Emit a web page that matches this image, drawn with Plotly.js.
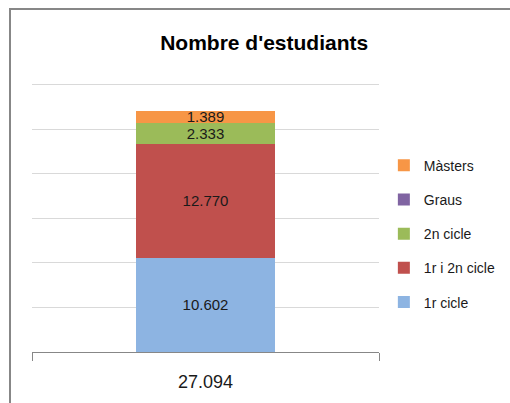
<!DOCTYPE html>
<html>
<head>
<meta charset="utf-8">
<script src="https://cdn.plot.ly/plotly-3.0.1.min.js"></script>
<style>
html,body{margin:0;padding:0;background:#fff;overflow:hidden;}
#chart{width:510px;height:403px;}
#frame{position:absolute;left:9px;top:8px;width:700px;height:600px;border:2px solid #878787;pointer-events:none;}
</style>
</head>
<body>
<div id="chart"></div>
<div id="frame"></div>
<script>
const categories = ['27.094'];
const seriesNames = ['1r cicle', '1r i 2n cicle', '2n cicle', 'Graus', 'Màsters'];
const v1rCicle = [10602];
const v1ri2nCicle = [12770];
const v2nCicle = [2333];
const vGraus = [0];
const vMasters = [1389];
const seriesValues = [v1rCicle, v1ri2nCicle, v2nCicle, vGraus, vMasters];
const colors = ['#8DB4E2', '#C0504D', '#9BBB59', '#8064A2', '#F79646'];

const traces = seriesNames.map((name, i) => ({
  type: 'bar',
  name: name,
  x: categories,
  y: seriesValues[i],
  marker: {color: colors[i], line: {width: 0}},
  width: 0.4,
  legendgroup: 'g' + i,
  legendrank: seriesNames.length - i,
  texttemplate: seriesValues[i][0] === 0 ? '' : '%{y:,.0f}',
  textposition: 'inside',
  insidetextanchor: 'middle',
  textfont: {family: 'Liberation Sans, Arial, sans-serif', size: 15, color: '#1a1a1a'},
  constraintext: 'none',
  hoverinfo: 'skip'
}));

const layout = {
  width: 510, height: 403,
  margin: {l: 32, r: 131, t: 83, b: 51, autoexpand: false},
  paper_bgcolor: '#ffffff',
  plot_bgcolor: '#ffffff',
  barmode: 'stack',
  separators: ',.',
  uniformtext: {mode: 'show', minsize: 15},
  title: {
    text: "<b>Nombre d'estudiants</b>",
    font: {family: 'Liberation Sans, Arial, sans-serif', size: 21, color: '#000000'},
    x: 0.518, xanchor: 'center', y: 0.893, yanchor: 'middle'
  },
  xaxis: {
    type: 'category',
    showline: true, linecolor: '#878787', linewidth: 1,
    ticks: 'outside', tickson: 'boundaries', ticklen: 8, tickcolor: '#878787',
    ticklabelstandoff: 13,
    tickfont: {family: 'Liberation Sans, Arial, sans-serif', size: 18, color: '#1a1a1a'},
    showgrid: false, fixedrange: true
  },
  yaxis: {
    range: [0, 30200], dtick: 5000,
    showticklabels: false, showline: false, zeroline: false,
    showgrid: true, gridcolor: '#d9d9d9', gridwidth: 1, fixedrange: true
  },
  showlegend: true,
  legend: {
    x: 1.014, xanchor: 'left', y: 0.44, yanchor: 'middle',
    traceorder: 'grouped',
    tracegroupgap: 13,
    font: {family: 'Liberation Sans, Arial, sans-serif', size: 14, color: '#1a1a1a'},
    bgcolor: 'rgba(0,0,0,0)'
  }
};

Plotly.newPlot('chart', traces, layout, {displayModeBar: false, staticPlot: true});
</script>
</body>
</html>
